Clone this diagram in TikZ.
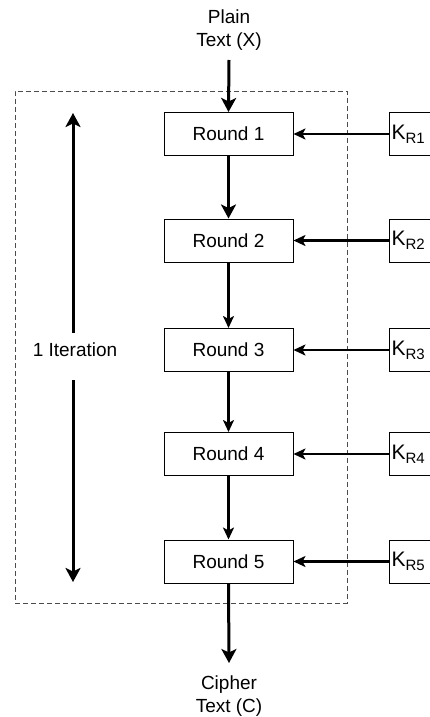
\documentclass[tikz,border=0pt]{standalone}
\usepackage{fontspec}
\setmainfont{Liberation Sans}
\usetikzlibrary{arrows.meta}
\begin{document}
\begin{tikzpicture}[x=1pt,y=-1pt,
  font=\fontsize{19}{23}\selectfont,
  rbox/.style={draw, line width=1pt, minimum width=129pt, minimum height=43pt, inner sep=0pt},
  kbox/.style={draw, line width=1pt, minimum height=43pt, text width=56pt, align=left, inner xsep=2pt, inner ysep=0pt, anchor=west},
  lbl/.style={align=center, inner sep=0pt},
  thickarr/.style={line width=3pt, -{Stealth[length=14pt,width=15pt,inset=3.5pt]}},
  thinarr/.style={line width=2.2pt, -{Stealth[length=12pt,width=11pt,inset=3pt]}},
  frame/.style={draw=black!70, line width=1pt, dash pattern=on 5pt off 3pt}
]
\clip (0,0) rectangle (430,717);
\fill[white] (0,0) rectangle (430,717);

\node[frame, minimum width=332pt, minimum height=512pt, inner sep=0pt] (fr) at (181,347) {};

\node[lbl] (plain) at (229,30) {Plain\\Text (X)};
\node[lbl, anchor=north] (cipher) at (229,676) {Cipher\\Text (C)};

\node[rbox] (r1) at (228.5,134) {Round 1};
\node[rbox] (r2) at (228.5,240.5) {Round 2};
\node[rbox] (r3) at (228.5,350) {Round 3};
\node[rbox] (r4) at (228.5,454) {Round 4};
\node[rbox] (r5) at (228.5,561.5) {Round 5};

\newcommand{\kk}[1]{{\fontsize{21}{21}\selectfont K}\raisebox{-4pt}{\fontsize{15}{15}\selectfont R#1}}
\node[kbox] (k1) at (389,134) {\kk{1}};
\node[kbox] (k2) at (389,240.5) {\kk{2}};
\node[kbox] (k3) at (389,350) {\kk{3}};
\node[kbox] (k4) at (389,454) {\kk{4}};
\node[kbox] (k5) at (389,561.5) {\kk{5}};

\coordinate (ptop) at (229,60);
\coordinate (cbot) at (229,663);
\draw[thickarr] (ptop) -- (r1.north);
\draw[thickarr] (r1) -- (r2);
\draw[thinarr] (r2) -- (r3);
\draw[thinarr] (r3) -- (r4);
\draw[thinarr] (r4) -- (r5);
\draw[thickarr] (r5.south) -- (cbot);

\foreach \i in {1,...,5} \draw[thinarr] (k\i.west) -- (r\i.east);

\node[lbl] (iter) at (75,350) {1 Iteration};
\coordinate (ua) at (73,333);
\coordinate (ub) at (73,113);
\coordinate (da) at (73,380);
\coordinate (db) at (73,582);
\draw[thickarr] (ua) -- (ub);
\draw[thickarr] (da) -- (db);
\end{tikzpicture}
\end{document}
